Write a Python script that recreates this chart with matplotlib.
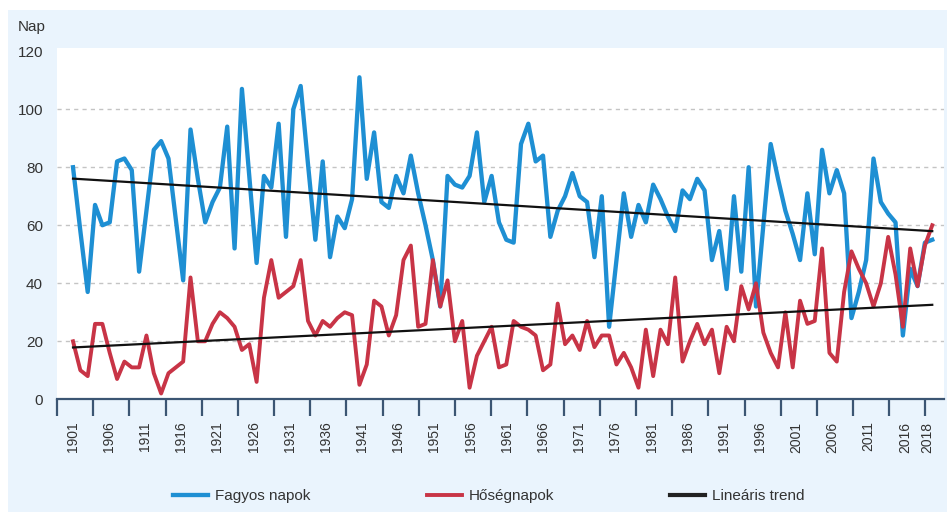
import numpy as np
import matplotlib
matplotlib.use("Agg")
import matplotlib.pyplot as plt  # noqa: E402
from matplotlib.patches import Rectangle  # noqa: E402

# --- data (days per year) --------------------------------------------------
years = np.arange(1901, 2019)
fagyos = [80, 58, 37, 67, 60, 61, 82, 83, 79, 44,
          65, 86, 89, 83, 62, 41, 93, 76, 61, 68,
          73, 94, 52, 107, 77, 47, 77, 73, 95, 56,
          100, 108, 81, 55, 82, 49, 63, 59, 69, 111,
          76, 92, 68, 66, 77, 71, 84, 71, 60, 48,
          32, 77, 74, 73, 77, 92, 68, 77, 61, 55,
          54, 88, 95, 82, 84, 56, 65, 70, 78, 70,
          68, 49, 70, 25, 48, 71, 56, 67, 61, 74,
          69, 63, 58, 72, 69, 76, 72, 48, 58, 38,
          70, 44, 80, 32, 60, 88, 76, 65, 57, 48,
          71, 50, 86, 71, 79, 71, 28, 37, 48, 83,
          68, 64, 61, 22, 45, 39, 54, 55]
hoseg = [20, 10, 8, 26, 26, 16, 7, 13, 11, 11,
         22, 9, 2, 9, 11, 13, 42, 20, 20, 26,
         30, 28, 25, 17, 19, 6, 35, 48, 35, 37,
         39, 48, 27, 22, 27, 25, 28, 30, 29, 5,
         12, 34, 32, 22, 29, 48, 53, 25, 26, 48,
         32, 41, 20, 27, 4, 15, 20, 25, 11, 12,
         27, 25, 24, 22, 10, 12, 33, 19, 22, 17,
         27, 18, 22, 22, 12, 16, 11, 4, 24, 8,
         24, 19, 42, 13, 20, 26, 19, 24, 9, 25,
         20, 39, 31, 40, 23, 16, 11, 30, 11, 34,
         26, 27, 52, 16, 13, 37, 51, 45, 40, 32,
         40, 56, 43, 25, 52, 39, 53, 60]
label_years = list(range(1901, 2017, 5)) + [2018]
y_ticks = [0, 20, 40, 60, 80, 100, 120]
grid_vals = [20, 40, 60, 80, 100]
legend_names = ["Fagyos napok", "Hőségnapok", "Lineáris trend"]

BLUE = "#1e8fd3"
RED = "#c83446"
PANEL = "#eaf4fd"
AXIS = "#3b5573"
TXT = "#333333"

plt.rcParams["font.family"] = ["Liberation Sans", "DejaVu Sans"]

fig = plt.figure(figsize=(9.47, 5.12), dpi=100)
fig.patches.append(Rectangle((8 / 947, 0), 1, 502 / 512, transform=fig.transFigure,
                             facecolor=PANEL, edgecolor="none", zorder=-10))
ax = fig.add_axes([57 / 947, 112.7 / 512, 887 / 947, 351.3 / 512])
ax.set_facecolor("white")

for g in grid_vals:
    ax.axhline(g, color="#c4c4c4", ls=(0, (3, 3)), lw=1.0, zorder=1)

ax.plot(years, fagyos, color=BLUE, lw=3.1, zorder=3, solid_joinstyle="round", label=legend_names[0])
ax.plot(years, hoseg, color=RED, lw=2.8, zorder=4, solid_joinstyle="round", label=legend_names[1])

# linear trends fitted to each series
for s in (fagyos, hoseg):
    k, b = np.polyfit(years, s, 1)
    ax.plot(years[[0, -1]], k * years[[0, -1]] + b, color="#111111", lw=1.6, zorder=5)
ax.plot([], [], color="#222222", lw=3.0, label=legend_names[2])

# tick marks sit between the year labels (category-style axis)
tick_pos = np.linspace(1898.82, 2017.08, 25)
label_pos = list(tick_pos[1:] - 2.8) + [2017.3]
ax.set_xlim(tick_pos[0], 2019.6)
ax.set_ylim(0, 121.1)
ax.set_xticks(tick_pos, labels=[])
ax.set_xticks(label_pos, labels=[str(y) for y in label_years], minor=True)
ax.tick_params(axis="x", which="major", length=12, width=1.6, color=AXIS, direction="out")
ax.tick_params(axis="x", which="minor", length=0, pad=16, labelrotation=90,
               labelsize=10, labelcolor=TXT)
ax.set_yticks(y_ticks)
ax.tick_params(axis="y", length=0, pad=10, labelsize=11, labelcolor=TXT)

for sp in ("top", "right", "left"):
    ax.spines[sp].set_visible(False)
ax.spines["bottom"].set_color(AXIS)
ax.spines["bottom"].set_linewidth(1.6)

fig.text(46 / 947, 1 - 31 / 512, "Nap", ha="right", va="baseline", fontsize=11, color=TXT)

leg = fig.legend(loc="center", bbox_to_anchor=(489 / 947, 1 - 496 / 512), ncol=3, frameon=False,
                 fontsize=11, handlelength=2.3, handletextpad=0.45, columnspacing=7.6)
for t in leg.get_texts():
    t.set_color(TXT)

fig.savefig("out.png", dpi=100, facecolor="white")
